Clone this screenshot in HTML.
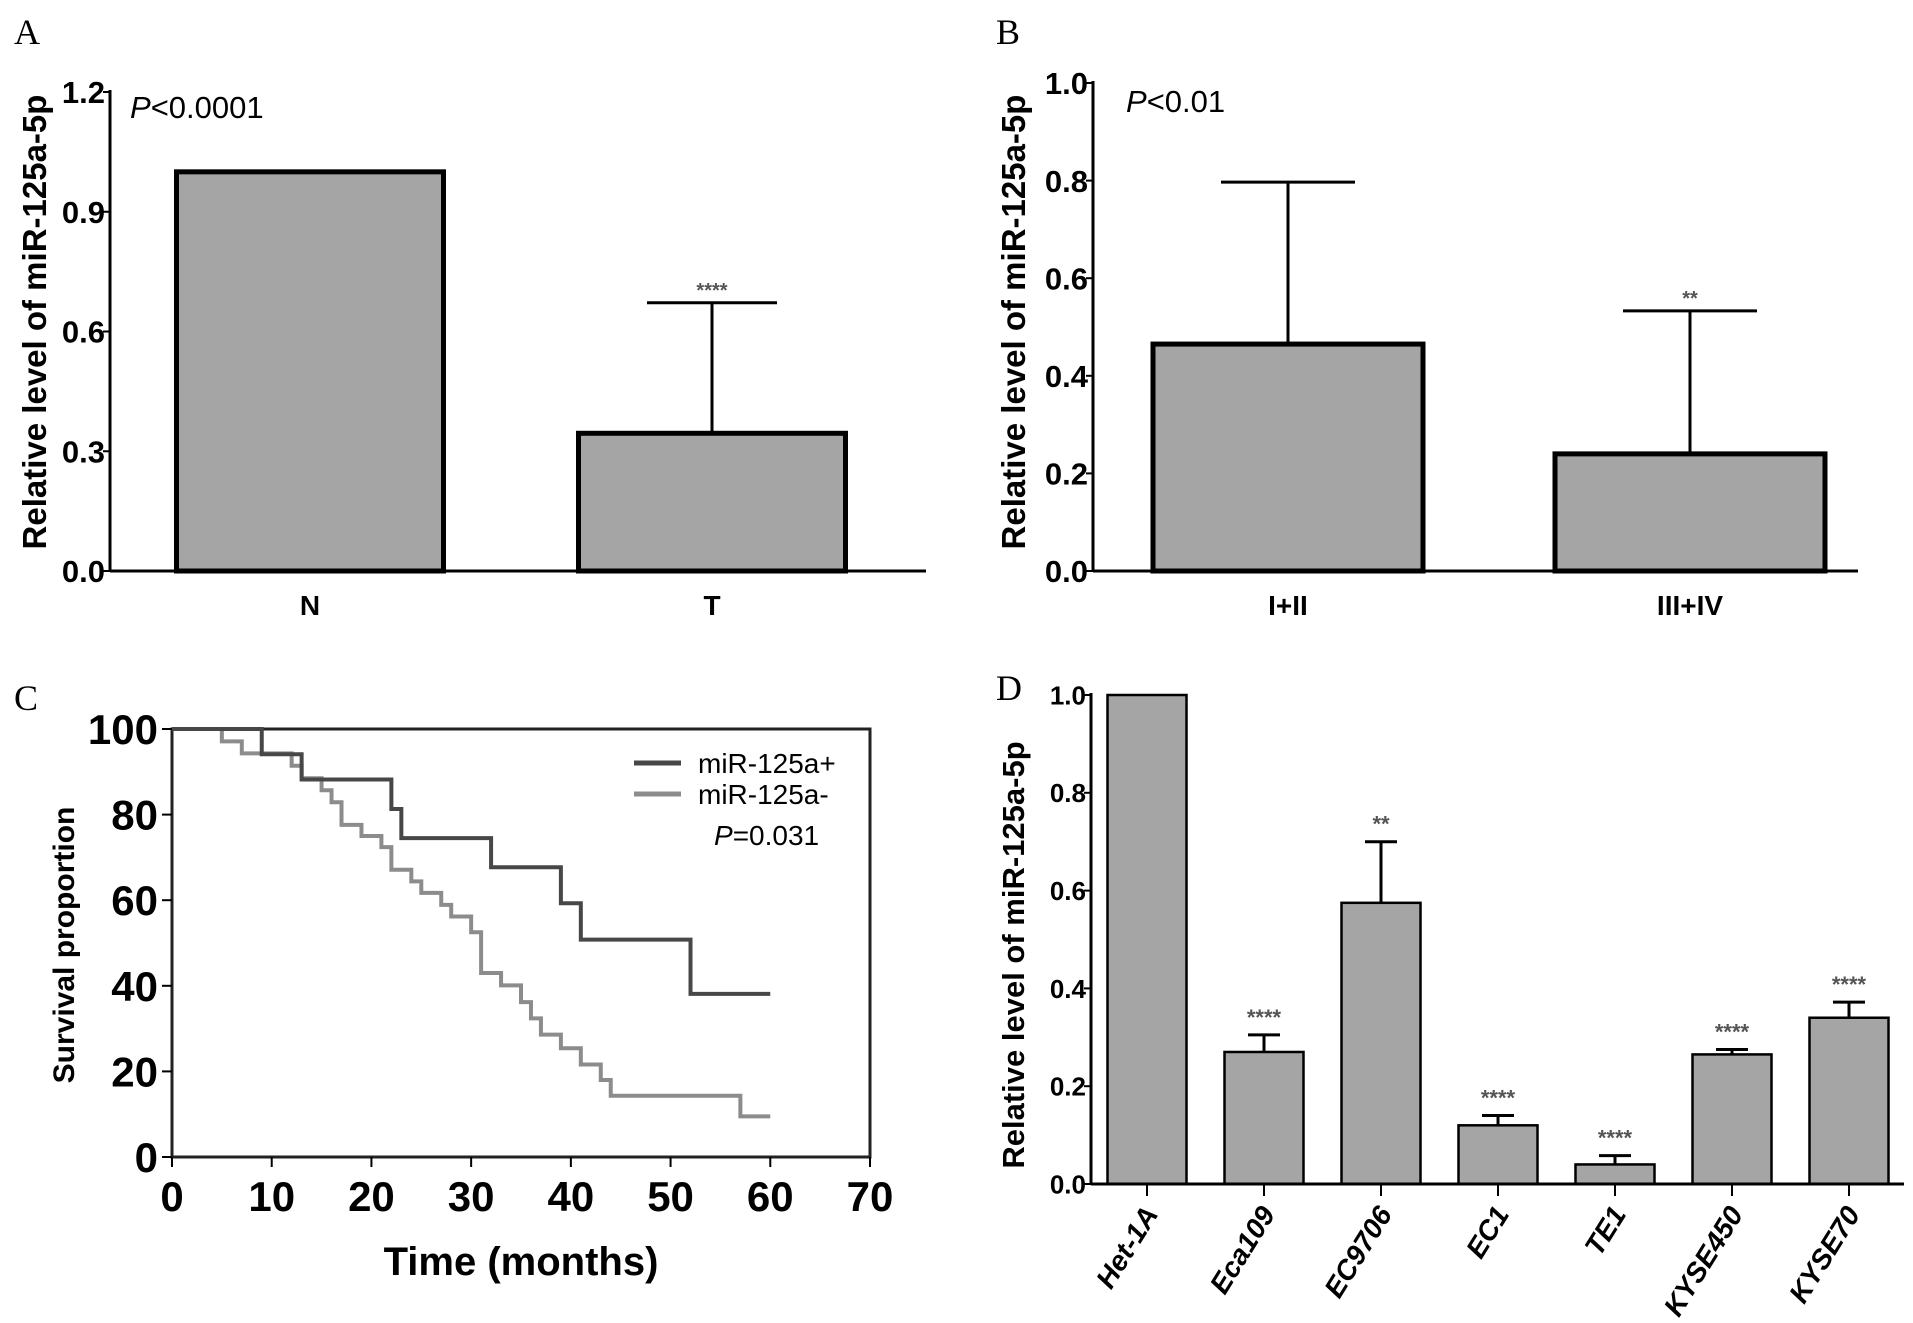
<!DOCTYPE html>
<html><head><meta charset="utf-8"><style>
html,body{margin:0;padding:0;background:#fff}
svg{display:block}
text{font-family:"Liberation Sans",Arial,sans-serif}
.n{font-family:"Liberation Sans Narrow","Liberation Sans",Arial,sans-serif}
</style></head><body>
<svg id="fig" width="1913" height="1323" viewBox="0 0 1913 1323">
<text x="14" y="44" font-size="36" style="font-family:'Liberation Serif',serif">A</text>
<text x="996" y="44" font-size="36" style="font-family:'Liberation Serif',serif">B</text>
<text x="14" y="710" font-size="36" style="font-family:'Liberation Serif',serif">C</text>
<text x="996" y="700" font-size="36" style="font-family:'Liberation Serif',serif">D</text>
</svg>
<script>
const NS="http://www.w3.org/2000/svg";
const svg=document.getElementById('fig');
function mk(tag,attrs,parent,txt){const e=document.createElementNS(NS,tag);for(const k in attrs)e.setAttribute(k,attrs[k]);if(txt!==undefined)e.textContent=txt;(parent||svg).appendChild(e);return e;}

// Panel A data
const aCats=["N","T"];
const aVals=[1.0,0.345];
const aErr=[null,0.672];
const aSig=["","****"];
const aTicks=[0.0,0.3,0.6,0.9,1.2];
// Panel B data
const bCats=["I+II","III+IV"];
const bVals=[0.465,0.24];
const bErr=[0.797,0.533];
const bSig=["","**"];
const bTicks=[0.0,0.2,0.4,0.6,0.8,1.0];
// Panel C data
const cPlusT=[0,9,13,22,23,32,39,41,52,60];
const cPlusS=[100,94.1,88.2,81.3,74.5,67.7,59.3,50.8,38.1,38.1];
const cMinusT=[0,5,7,12,13,15,16,17,19,21,22,24,25,27,28,30,31,33,35,36,37,39,41,43,44,57,60];
const cMinusS=[100,97.1,94.3,91.4,88.5,85.7,82.9,77.6,75.0,72.4,67.1,64.4,61.7,58.9,56.2,52.5,43.0,40.1,36.2,32.4,28.6,25.4,21.6,18.0,14.3,9.5,9.5];
const cXTicks=[0,10,20,30,40,50,60,70];
const cYTicks=[0,20,40,60,80,100];
// Panel D data
const dCats=["Het-1A","Eca109","EC9706","EC1","TE1","KYSE450","KYSE70"];
const dVals=[1.0,0.27,0.575,0.12,0.04,0.265,0.34];
const dErr=[null,0.305,0.70,0.14,0.058,0.275,0.372];
const dSig=["","****","**","****","****","****","****"];
const dTicks=[0.0,0.2,0.4,0.6,0.8,1.0];

function barPanel(o){
  const g=mk('g',{});
  const y=v=>o.y0-(v/o.ymax)*(o.y0-o.y1);
  const xc=i=>o.x0+o.offs+i*o.step;
  o.vals.forEach((v,i)=>{
    const e=o.err[i];
    if(e!==null){
      const l1=mk('line',{x1:xc(i),x2:xc(i),y1:y(v),y2:y(e),stroke:'#000','stroke-width':o.ew},g);
      
      
      const l2=mk('line',{x1:xc(i)-o.cap,x2:xc(i)+o.cap,y1:y(e),y2:y(e),stroke:'#000','stroke-width':o.ew},g);
      
      
    }
    const r=mk('rect',{x:xc(i)-o.bw/2,y:y(v),width:o.bw,height:o.y0-y(v),fill:'#a5a5a5',stroke:'#000','stroke-width':o.bs},g);
    
    
    if(o.sig[i]){
      const t=mk('text',{x:xc(i),y:y(e!==null?e:v)-o.sigOff,'text-anchor':'middle','font-size':o.sigSize,'font-weight':'bold',fill:'#555'},g,o.sig[i]);
      
      
    }
    if(o.xticks) mk('line',{x1:xc(i),x2:xc(i),y1:o.y0,y2:o.y0+12,stroke:'#000','stroke-width':2},g);
    let lab;
    if(o.rot){
      const lx=xc(i)+12, ly=o.y0+30;
      lab=mk('text',{x:lx,y:ly,'text-anchor':'end','font-size':o.labSize,'font-weight':'bold','font-style':'italic',transform:`rotate(-58 ${lx} ${ly})`},g,o.cats[i]);
    } else {
      lab=mk('text',{x:xc(i),y:o.y0+44,'text-anchor':'middle','font-size':o.labSize,'font-weight':'bold',class:'n'},g,o.cats[i]);
    }
    
    
  });
  const ya=mk('line',{x1:o.x0,x2:o.x0,y1:o.y1-2,y2:o.y0,stroke:'#000','stroke-width':3},g);
  
  
  const xa=mk('line',{x1:o.x0,x2:o.xEnd,y1:o.y0,y2:o.y0,stroke:'#000','stroke-width':3},g);
  
  
  o.ticks.forEach(t=>{
    mk('line',{x1:o.x0-7,x2:o.x0,y1:y(t),y2:y(t),stroke:'#000','stroke-width':2},g);
    const tl=mk('text',{x:o.x0-5,y:y(t)+o.tickSize*0.36,'text-anchor':'end','font-size':o.tickSize,'font-weight':'bold',class:'n'},g,t.toFixed(1));
    
    
  });
  const yt=mk('text',{x:o.titleX,y:o.titleY,'text-anchor':'middle','font-size':o.titleSize,'font-weight':'bold',transform:`rotate(-90 ${o.titleX} ${o.titleY})`},g,'Relative level of miR-125a-5p');
  
  
  if(o.p){
    const pt=mk('text',{x:o.px,y:o.py,'font-size':31,class:'n'},g);
    mk('tspan',{'font-style':'italic'},pt,'P');
    mk('tspan',{},pt,o.p);
    
    
  }
}

barPanel({name:'panel-a-chart',x0:110,y0:571,y1:92,ymax:1.2,xEnd:926,offs:200,step:402,bw:267,bs:5,ew:3,cap:65,
  cats:aCats,vals:aVals,err:aErr,sig:aSig,ticks:aTicks,sigOff:6,sigSize:20,labSize:28,tickSize:31,
  titleX:46,titleY:322,titleSize:33,p:'<0.0001',px:130,py:118});
barPanel({name:'panel-b-chart',x0:1093,y0:571,y1:83,ymax:1.0,xEnd:1858,offs:195,step:402,bw:270,bs:5,ew:3,cap:67,
  cats:bCats,vals:bVals,err:bErr,sig:bSig,ticks:bTicks,sigOff:6,sigSize:20,labSize:28,tickSize:31,
  titleX:1025,titleY:322,titleSize:33,p:'<0.01',px:1126,py:112});
barPanel({name:'panel-d-chart',x0:1091,y0:1184,y1:695,ymax:1.0,xEnd:1904,offs:56,step:117,bw:79,bs:2.5,ew:3,cap:16,
  cats:dCats,vals:dVals,err:dErr,sig:dSig,ticks:dTicks,sigOff:10,sigSize:22,labSize:28,tickSize:26,xticks:true,rot:true,
  titleX:1024,titleY:955,titleSize:31});

// Panel C
(function(){
  const g=mk('g',{});
  const X0=172,X1=870,Y0=1157,Y1=729;
  const x=t=>X0+t/70*(X1-X0);
  const y=s=>Y0-s/100*(Y0-Y1);
  const frame=mk('rect',{x:X0,y:Y1,width:X1-X0,height:Y0-Y1,fill:'none',stroke:'#222','stroke-width':3},g);
  
  
  cXTicks.forEach(t=>{
    mk('line',{x1:x(t),x2:x(t),y1:Y0,y2:Y0+10,stroke:'#000','stroke-width':2},g);
    const l=mk('text',{x:x(t),y:Y0+54,'text-anchor':'middle','font-size':42,'font-weight':'bold',class:'n'},g,t);
    
    
  });
  cYTicks.forEach(t=>{
    mk('line',{x1:X0-10,x2:X0,y1:y(t),y2:y(t),stroke:'#000','stroke-width':2},g);
    const l=mk('text',{x:X0-14,y:y(t)+15,'text-anchor':'end','font-size':42,'font-weight':'bold',class:'n'},g,t);
    
    
  });
  function step(T,S){let d=`M${x(T[0])},${y(S[0])}`;for(let i=1;i<T.length;i++){d+=` H${x(T[i])} V${y(S[i])}`;}return d;}
  const pm=mk('path',{d:step(cMinusT,cMinusS),fill:'none',stroke:'#8c8c8c','stroke-width':4},g);
  
  
  const pp=mk('path',{d:step(cPlusT,cPlusS),fill:'none',stroke:'#474747','stroke-width':4},g);
  
  
  const xt=mk('text',{x:521,y:1275,'text-anchor':'middle','font-size':40,'font-weight':'bold'},g,'Time (months)');
  
  
  const yt=mk('text',{x:74,y:945,'text-anchor':'middle','font-size':30,'font-weight':'bold',transform:'rotate(-90 74 945)'},g,'Survival proportion');
  
  
  const le1=mk('g',{},g);
  
  
  mk('line',{x1:634,x2:681,y1:763,y2:763,stroke:'#474747','stroke-width':5},le1);
  mk('text',{x:698,y:773,'font-size':28},le1,'miR-125a+');
  const le2=mk('g',{},g);
  
  
  mk('line',{x1:634,x2:681,y1:794,y2:794,stroke:'#8c8c8c','stroke-width':5},le2);
  mk('text',{x:698,y:804,'font-size':28},le2,'miR-125a-');
  const pt=mk('text',{x:714,y:845,'font-size':28},g);
  mk('tspan',{'font-style':'italic'},pt,'P');
  mk('tspan',{},pt,'=0.031');
  
  
})();
</script>
</body></html>
